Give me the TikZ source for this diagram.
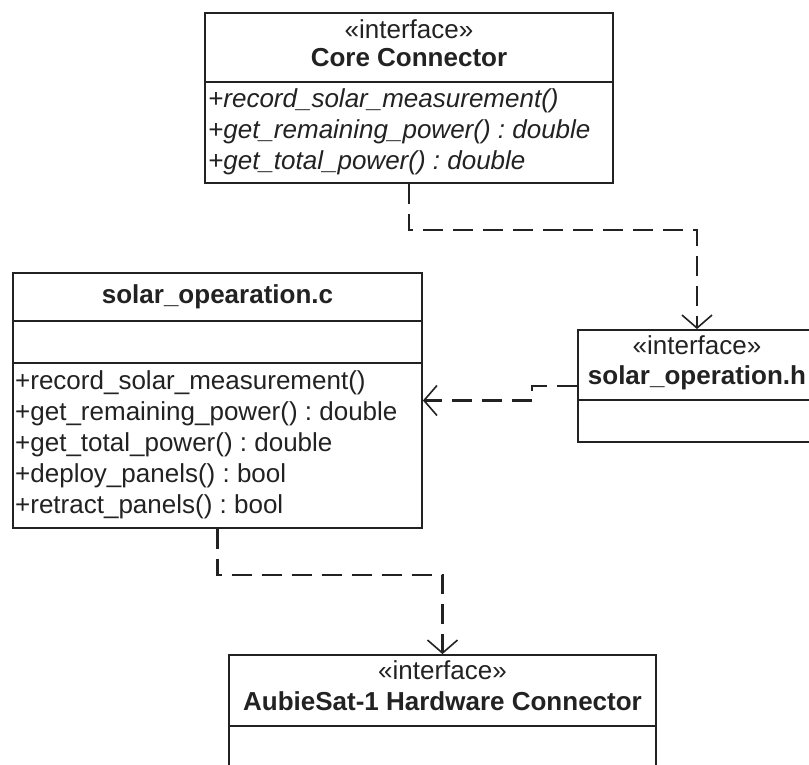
\documentclass[tikz,border=0pt]{standalone}
\usepackage{fontspec}
\setmainfont{Liberation Sans}
\usetikzlibrary{arrows.meta}
\definecolor{ink}{HTML}{222222}
\frenchspacing
\begin{document}
\begin{tikzpicture}[x=1pt,y=-1pt,
  umlbox/.style={draw=ink, line width=1.8pt, inner sep=0pt, fill=white},
  txt/.style={inner sep=0pt, text=ink, font=\fontsize{26}{30}\selectfont,
              text height=19pt, text depth=6pt},
  member/.style={txt, anchor=west},
  titletxt/.style={txt, font=\fontsize{26}{30}\selectfont\bfseries},
  divider/.style={draw=ink, line width=1.8pt},
  dep/.style={draw=ink, line width=2.6pt, dash pattern=on 20pt off 10pt,
              -{Straight Barb[length=13pt,width=30pt,line width=1.6pt,sep=0pt]}}
]
\useasboundingbox (0,0) rectangle (809,765);
\clip (0,0) rectangle (809,765);

% interface: Core Connector
\node[umlbox, minimum width=408pt, minimum height=170pt] (core) at (409,98) {};
\draw[divider] (205,82) -- (613,82);
\node[txt] (coreSt) at (409,32) {«interface»};
\node[titletxt] (coreT) at (409,60) {Core Connector};
\node[member] (coreM1) at (208,101) {\itshape +record\_solar\_measurement()};
\node[member] (coreM2) at (208,132) {\itshape +get\_remaining\_power() : double};
\node[member] (coreM3) at (208,163) {\itshape +get\_total\_power() : double};

% class: solar_opearation.c
\node[umlbox, minimum width=409pt, minimum height=255pt] (cbox) at (217.5,400.5) {};
\draw[divider] (13,321) -- (422,321);
\draw[divider] (13,363) -- (422,363);
\node[titletxt] (cT) at (217.5,297) {solar\_opearation.c};
\node[member] (cM1) at (15,383) {+record\_solar\_measurement()};
\node[member] (cM2) at (15,414) {+get\_remaining\_power() : double};
\node[member] (cM3) at (15,445) {+get\_total\_power() : double};
\node[member] (cM4) at (15,476) {+deploy\_panels() : bool};
\node[member] (cM5) at (15,507) {+retract\_panels() : bool};

% interface: solar_operation.h
\node[umlbox, minimum width=238pt, minimum height=112pt] (hbox) at (697,386) {};
\draw[divider] (578,400) -- (816,400);
\node[txt] (hSt) at (697,348) {«interface»};
\node[titletxt] (hT) at (697,378) {solar\_operation.h};

% interface: AubieSat-1 Hardware Connector
\node[umlbox, minimum width=427pt, minimum height=145pt] (abox) at (442.5,727.5) {};
\draw[divider] (229,726) -- (656,726);
\node[txt] (aSt) at (442.5,673) {«interface»};
\node[titletxt] (aT) at (442.5,704) {AubieSat-1 Hardware Connector};

% dependencies
\draw[dep] (core.south) -- ++(0,46) -| (hbox.north);
\draw[dep] (hbox.west) -- ++(-45,0) |- (cbox.east);
\draw[dep] (cbox.south) -- ++(0,46) -| (abox.north);
\end{tikzpicture}
\end{document}
